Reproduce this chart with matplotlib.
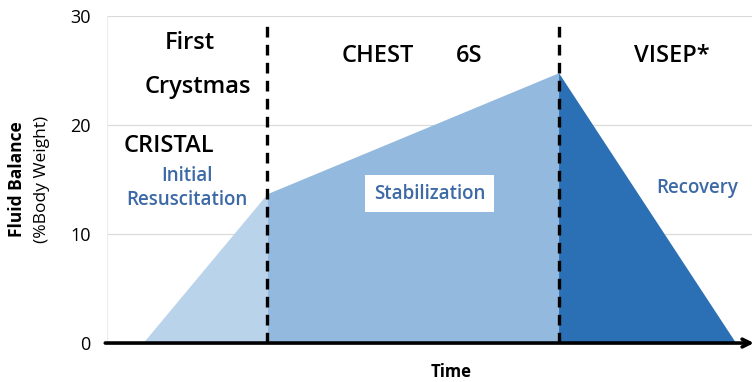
import matplotlib
matplotlib.use("Agg")
import matplotlib.pyplot as plt

plt.rcParams['font.family'] = ['Open Sans', 'DejaVu Sans']

# fluid balance over time (time in arbitrary units 0-100)
phase_names = ["Initial\nResuscitation", "Stabilization", "Recovery"]
time_pts = [5.5, 24.8, 70.0, 97.5]
balance_pts = [0, 13.7, 24.8, 0]
phase_bounds = [24.8, 70.0]
y_ticks = [0, 10, 20, 30]

light = "#b9d3eb"
mid = "#93b9df"
dark = "#2b6fb4"
txt_blue = "#3d6aa6"

fig = plt.figure(figsize=(7.55, 3.82), dpi=100)
ax = fig.add_axes([0.142, 0.102, 0.854, 0.856])

# three shaded phases
ax.fill_between(time_pts[0:2], balance_pts[0:2], color=light, lw=0)
ax.fill_between(time_pts[1:3], balance_pts[1:3], color=mid, lw=0)
ax.fill_between(time_pts[2:4], balance_pts[2:4], color=dark, lw=0)

for y in y_ticks[1:]:
    ax.axhline(y, color="#d9d9d9", lw=0.8, zorder=0)
ax.axvline(0, color="#ececec", lw=0.8, zorder=0)

for xb in phase_bounds:
    ax.plot([xb, xb], [0, 29.5], color="black", lw=2.4,
            dashes=(3.2, 2.2), zorder=3)

ax.annotate("", xy=(100.3, 0), xytext=(-0.3, 0),
            arrowprops=dict(arrowstyle="->", lw=2.6, color="black",
                            mutation_scale=14, shrinkA=0, shrinkB=0),
            annotation_clip=False, zorder=4)

ax.set_xlim(0, 100)
ax.set_ylim(0, 30)
ax.set_yticks(y_ticks)
ax.set_xticks([])
ax.tick_params(axis="y", length=0, pad=12, labelsize=13)
for s in ax.spines.values():
    s.set_visible(False)

# study labels
big = dict(ha="center", va="center", fontsize=17, fontweight="semibold")
ax.text(12.8, 27.5, "First", **big)
ax.text(14.0, 23.5, "Crystmas", **big)
ax.text(2.6, 18.1, "CRISTAL", **dict(big, ha="left"))
ax.text(42.0, 26.3, "CHEST", **big)
ax.text(56.2, 26.3, "6S", **big)
ax.text(87.5, 26.3, "VISEP*", **big)

# phase labels
small = dict(ha="center", va="center", fontsize=13.5, fontweight="semibold", color=txt_blue)
ax.text(12.4, 14.2, phase_names[0], linespacing=1.25, **small)
ax.text(50.0, 13.7, phase_names[1],
        bbox=dict(boxstyle="square,pad=0.45", fc="white", ec="none"), **small)
ax.text(91.5, 14.2, phase_names[2], **small)

fig.text(0.0225, 0.53, "Fluid Balance", rotation=90, ha="center", va="center",
         fontsize=12.5, fontweight="bold")
fig.text(0.0556, 0.53, "(%Body Weight)", rotation=90, ha="center", va="center",
         fontsize=12.5)
fig.text(0.598, 0.025, "Time", ha="center", va="center", fontsize=12, fontweight="bold")

fig.savefig("out.png", dpi=100)
